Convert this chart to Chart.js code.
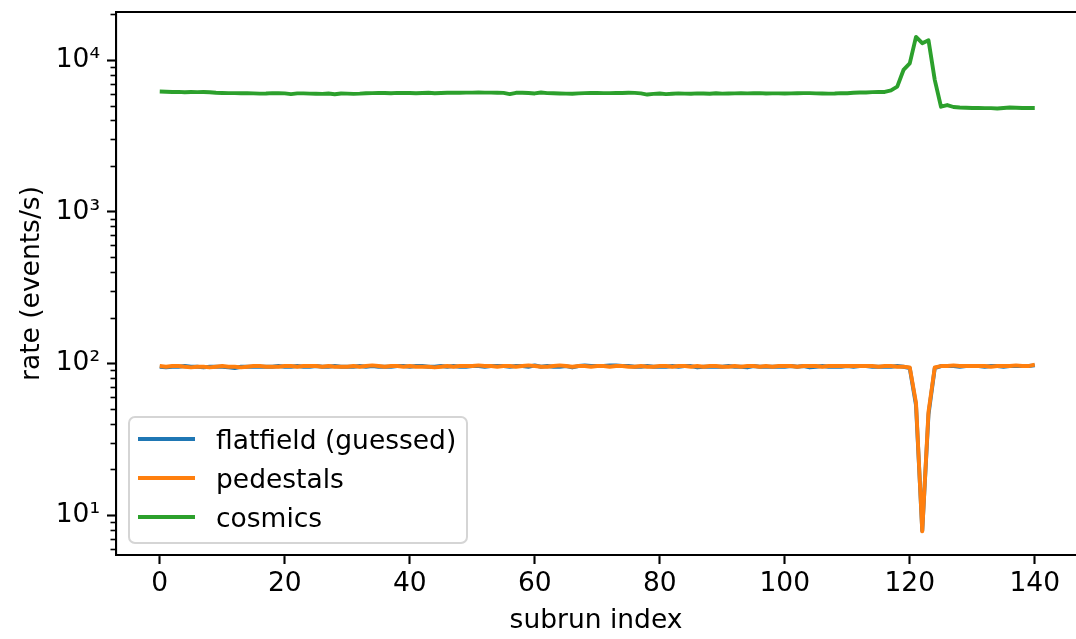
<!DOCTYPE html>
<html>
<head>
<meta charset="utf-8">
<script src="https://cdn.jsdelivr.net/npm/chart.js@4.4.0/dist/chart.umd.min.js"></script>
<style>
  html, body { margin: 0; padding: 0; background: #fff; overflow: hidden; }
  #wrap { width: 1076px; height: 639px; }
</style>
</head>
<body>
<div id="wrap"><canvas id="rates" width="1076" height="639"></canvas></div>
<script>
// subrun indices 0..140
const subrun = Array.from({ length: 141 }, (_, i) => i);

const flatfield = [
  95, 94, 95, 95, 96, 95, 95, 94, 95, 95,
  95, 94, 93, 95, 95, 95, 95, 95, 95, 96,
  95, 95, 96, 95, 95, 96, 95, 95, 96, 95,
  95, 95, 96, 95, 96, 95, 95, 95, 96, 96,
  95, 96, 96, 95, 95, 96, 95, 96, 95, 95,
  96, 96, 95, 96, 96, 96, 95, 96, 96, 95,
  97, 95, 96, 95, 95, 96, 94, 96, 97, 96,
  96, 96, 97, 97, 96, 96, 95, 95, 96, 95,
  95, 95, 96, 95, 96, 96, 94, 95, 95, 95,
  95, 96, 95, 95, 94, 96, 95, 95, 95, 95,
  95, 96, 95, 96, 94, 95, 96, 95, 95, 95,
  96, 95, 96, 96, 95, 95, 95, 95, 96, 95,
  93, 53, 7.9, 46, 93, 96, 96, 96, 95, 96,
  96, 96, 95, 96, 96, 95, 96, 96, 96, 96, 97
];

const pedestals = [
  96, 95, 96, 96, 95, 94, 95, 95, 94, 95,
  96, 95, 95, 94, 95, 96, 96, 95, 95, 95,
  96, 96, 95, 96, 96, 96, 95, 96, 95, 95,
  95, 96, 95, 96, 97, 96, 95, 96, 96, 95,
  96, 95, 95, 95, 94, 95, 96, 95, 96, 96,
  96, 97, 96, 96, 95, 96, 96, 95, 96, 97,
  96, 95, 95, 96, 97, 96, 95, 96, 96, 95,
  96, 96, 95, 96, 96, 95, 95, 96, 95, 95,
  96, 96, 95, 96, 96, 95, 96, 95, 96, 96,
  95, 95, 96, 95, 96, 96, 95, 96, 95, 96,
  96, 96, 95, 96, 96, 96, 95, 96, 96, 96,
  96, 96, 96, 96, 96, 95, 96, 96, 95, 95,
  94, 55, 7.8, 48, 94, 96, 96, 97, 96, 96,
  96, 96, 96, 95, 96, 96, 96, 97, 96, 96, 98
];

const cosmics = [
  6200, 6180, 6150, 6170, 6130, 6150, 6140, 6150, 6130, 6080, 6060,
  6050, 6050, 6040, 6040, 6030, 6000, 6010, 6050, 6040, 6030,
  5960, 6030, 6030, 6000, 5990, 5980, 6010, 5950, 6010, 6000,
  5980, 6000, 6040, 6050, 6060, 6060, 6040, 6070, 6060, 6060,
  6040, 6060, 6080, 6040, 6060, 6080, 6090, 6090, 6100, 6100,
  6110, 6100, 6100, 6090, 6070, 5960, 6080, 6090, 6060, 6020,
  6110, 6050, 6040, 6020, 6000, 5990, 6030, 6050, 6060, 6060,
  6050, 6050, 6060, 6060, 6080, 6070, 6030, 5920, 5980, 6020,
  5960, 5990, 6030, 6000, 5990, 6030, 6010, 5990, 6040, 6000,
  6020, 6030, 6040, 6030, 6040, 6050, 6020, 6030, 6030, 6020,
  6030, 6040, 6050, 6050, 6030, 6010, 6000, 6010, 6050, 6040,
  6080, 6110, 6110, 6140, 6150, 6160, 6300,
  6670, 8600, 9500, 14200, 12900, 13500, 7400, 4920, 5050, 4900,
  4860, 4840, 4830, 4830, 4820, 4820, 4790, 4830, 4860, 4840, 4830, 4830, 4830
];

const seriesNames = ['flatfield (guessed)', 'pedestals', 'cosmics'];
const seriesColors = ['#1f77b4', '#ff7f0e', '#2ca02c'];
const xTicks = [0, 20, 40, 60, 80, 100, 120, 140];
const yTicks = [10, 100, 1000, 10000];

const FONT = 'DejaVu Sans';
const FS = 26.5;
const SUP = ['⁰', '¹', '²', '³', '⁴', '⁵'];

function points(values) {
  return values.map((v, i) => ({ x: subrun[i], y: v }));
}

// minor log ticks, top spine and the legend box
const extras = {
  id: 'extras',
  afterDraw(chart) {
    const ctx = chart.ctx;
    const area = chart.chartArea;
    const y = chart.scales.y;
    ctx.save();
    ctx.strokeStyle = '#000';
    ctx.lineWidth = 1.6;
    for (let d = 0; d <= 4; d++) {
      for (let k = 2; k <= 9; k++) {
        const v = k * Math.pow(10, d);
        if (v < y.min || v > y.max) continue;
        const py = Math.round(y.getPixelForValue(v)) + 0.5;
        ctx.beginPath();
        ctx.moveTo(area.left - 5.5, py);
        ctx.lineTo(area.left, py);
        ctx.stroke();
      }
    }
    // top spine
    ctx.lineWidth = 2.1;
    ctx.beginPath();
    ctx.moveTo(area.left - 1, area.top);
    ctx.lineTo(area.right, area.top);
    ctx.stroke();

    // legend
    const bx = 129, by = 417, bw = 338, bh = 126, r = 6;
    ctx.beginPath();
    ctx.roundRect(bx, by, bw, bh, r);
    ctx.fillStyle = 'rgba(255,255,255,0.8)';
    ctx.fill();
    ctx.strokeStyle = '#d5d5d5';
    ctx.lineWidth = 2;
    ctx.stroke();
    ctx.font = FS + 'px "' + FONT + '"';
    ctx.textBaseline = 'alphabetic';
    ctx.textAlign = 'left';
    seriesNames.forEach((name, i) => {
      const ly = 439 + i * 39;
      ctx.strokeStyle = seriesColors[i];
      ctx.lineWidth = 3.9;
      ctx.beginPath();
      ctx.moveTo(138, ly);
      ctx.lineTo(195, ly);
      ctx.stroke();
      ctx.fillStyle = '#000';
      ctx.fillText(name, 216, ly + 10);
    });
    ctx.restore();
  }
};

const allSeries = [flatfield, pedestals, cosmics];

new Chart(document.getElementById('rates'), {
  type: 'line',
  data: {
    datasets: allSeries.map((vals, i) => ({
      label: seriesNames[i],
      data: points(vals),
      borderColor: seriesColors[i],
      backgroundColor: seriesColors[i],
      borderWidth: 3.9,
      borderJoinStyle: 'round',
      pointRadius: 0,
      tension: 0,
      order: 3 - i
    }))
  },
  options: {
    responsive: false,
    animation: false,
    layout: { padding: { top: 12, right: 0, bottom: 0, left: 0 } },
    plugins: { legend: { display: false }, tooltip: { enabled: false } },
    scales: {
      x: {
        type: 'linear',
        min: -7,
        max: 146.6,
        afterBuildTicks: s => { s.ticks = xTicks.map(v => ({ value: v })); },
        afterFit: s => { s.height = 84; s.paddingLeft = 0; s.paddingRight = 0; },
        grid: { display: true, drawOnChartArea: false, tickLength: 9, tickWidth: 2.1, tickColor: '#000' },
        border: { display: true, color: '#000', width: 2.1 },
        ticks: { color: '#000', font: { family: FONT, size: FS }, padding: 4, maxRotation: 0 },
        title: { display: true, text: 'subrun index', color: '#000', font: { family: FONT, size: FS, lineHeight: 1 }, padding: { top: 0, bottom: 5 } }
      },
      y: {
        type: 'logarithmic',
        min: 5.45,
        max: 20730,
        afterBuildTicks: s => { s.ticks = yTicks.map(v => ({ value: v })); },
        afterFit: s => { s.width = 116; s.paddingTop = 0; s.paddingBottom = 0; },
        grid: { display: true, drawOnChartArea: false, tickLength: 9, tickWidth: 2.1, tickColor: '#000' },
        border: { display: true, color: '#000', width: 2.1 },
        ticks: {
          color: '#000',
          font: { family: FONT, size: FS },
          padding: 7,
          callback: v => '10' + SUP[Math.round(Math.log10(v))]
        },
        title: { display: true, text: 'rate (events/s)', color: '#000', font: { family: FONT, size: FS, lineHeight: 1 }, padding: { top: 19, bottom: 0 } }
      }
    }
  },
  plugins: [extras]
});
</script>
</body>
</html>
